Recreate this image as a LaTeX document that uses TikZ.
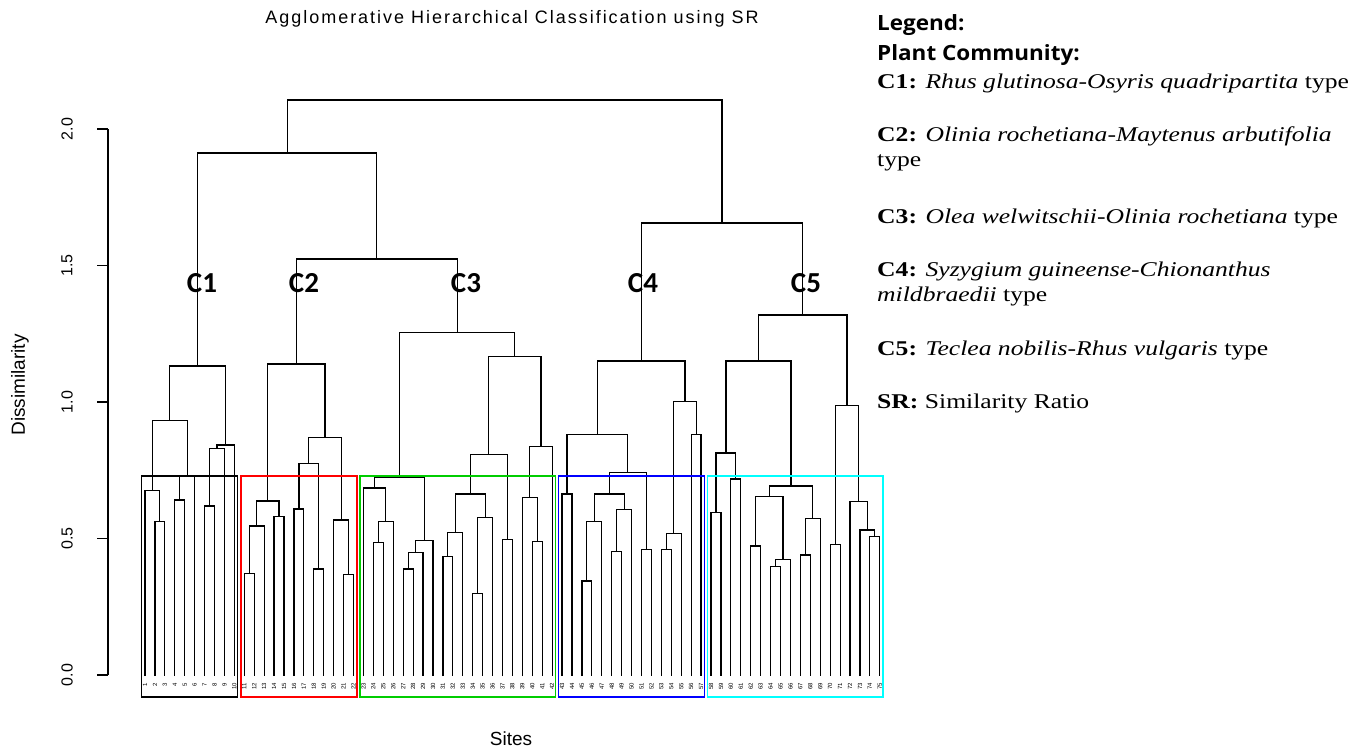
\documentclass[tikz,border=0pt]{standalone}
\usepackage{fontspec}
\usetikzlibrary{calc}

\newfontfamily\plotfont{Liberation Sans}
\newfontfamily\titlefont{Liberation Sans}[LetterSpace=11]
\newfontfamily\clabfont{Carlito}
\newfontfamily\legsans{Open Sans}
\newfontfamily\legserif{Liberation Serif}

\definecolor{rred}{RGB}{255,0,0}
\definecolor{rgreen}{RGB}{0,205,0}
\definecolor{rblue}{RGB}{0,0,255}
\definecolor{rcyan}{RGB}{0,255,255}

\tikzset{
  branch/.style={black, line width=1.2pt},
  clusterbox/.style={line width=1.5pt},
  ticklab/.style={font=\plotfont\fontsize{16}{16}\selectfont, rotate=90, inner sep=0pt},
  axislab/.style={font=\plotfont\fontsize{19}{19}\selectfont, inner sep=0pt},
  leaflab/.style={font=\plotfont\fontsize{6}{6}\selectfont, rotate=90, anchor=east, inner sep=0pt},
  clab/.style={font=\clabfont\bfseries\fontsize{29}{29}\selectfont, inner sep=0pt},
  leghead/.style={font=\legsans\bfseries\fontsize{21}{21}\selectfont, anchor=base west, inner sep=0pt},
  legbody/.style={font=\legserif\fontsize{21}{21}\selectfont, anchor=base west, inner sep=0pt}
}

% \mergeat{name}{left child}{right child}{height}
\newcommand{\mergeat}[4]{%
  \coordinate (#1) at ($(#2 |- 0,#4)!0.5!(#3 |- 0,#4)$);
  \draw[branch] (#2) -- (#2 |- 0,#4) -- (#3 |- 0,#4) -- (#3);
}
% wider legend text
\newcommand{\legwide}[1]{\scalebox{1.22}[1]{#1}}

\begin{document}
\begin{tikzpicture}[x=1pt, y=-1pt]

	\useasboundingbox (0,0) rectangle (1355,748);

	%title and axis labels
	\node[axislab, font=\titlefont\fontsize{18}{18}\selectfont] (title) at (512,19) {Agglomerative Hierarchical Classification using SR};
	\node[axislab] (xlab) at (511,739) {Sites};
	\node[axislab, rotate=90] (ylab) at (20,385) {Dissimilarity};

	%y axis
	\draw[branch] (108,129) -- (108,675);
	\foreach \v/\y in {0.0/675,0.5/538.5,1.0/402,1.5/265.5,2.0/129} {
		\draw[branch] (108,\y) -- (97,\y);
		\node[ticklab] at (67,\y) {\v};
	}

	%leaves
	\foreach \i in {1,...,75} {
		\coordinate (L\i) at ({145+9.93*(\i-1)},676);
		\node[leaflab] (s\i) at ({145+9.93*(\i-1)},683) {\i};
	}

	%C1
	\mergeat{a1}{L2}{L3}{521.7}
	\mergeat{a2}{L1}{a1}{490.7}
	\mergeat{a3}{L4}{L5}{500}
	\mergeat{a4}{a3}{L6}{476.7}
	\mergeat{a5}{a2}{a4}{420.7}
	\mergeat{a6}{L7}{L8}{506}
	\mergeat{a7}{a6}{L9}{448.3}
	\mergeat{a8}{a7}{L10}{445}
	\mergeat{cA}{a5}{a8}{366}

	%C2
	\mergeat{b1}{L11}{L12}{573.3}
	\mergeat{b2}{b1}{L13}{526}
	\mergeat{b3}{L14}{L15}{516.7}
	\mergeat{b4}{b2}{b3}{501}
	\mergeat{b5}{L16}{L17}{509}
	\mergeat{b6}{L18}{L19}{569}
	\mergeat{b7}{b5}{b6}{463.3}
	\mergeat{b8}{L21}{L22}{574.3}
	\mergeat{b9}{L20}{b8}{520}
	\mergeat{b10}{b7}{b9}{437.3}
	\mergeat{cB}{b4}{b10}{364}

	%C3
	\mergeat{g1}{L24}{L25}{542.3}
	\mergeat{g2}{g1}{L26}{521.3}
	\mergeat{g3}{L23}{g2}{488}
	\mergeat{g4}{L27}{L28}{569}
	\mergeat{g5}{g4}{L29}{552.3}
	\mergeat{g6}{g5}{L30}{540.7}
	\mergeat{g7}{g3}{g6}{477.7}
	\mergeat{g8}{L31}{L32}{556.7}
	\mergeat{g9}{g8}{L33}{532.3}
	\mergeat{g10}{L34}{L35}{593.3}
	\mergeat{g11}{g10}{L36}{517.3}
	\mergeat{g12}{g9}{g11}{494}
	\mergeat{g13}{L37}{L38}{539.7}
	\mergeat{g14}{g12}{g13}{454.3}
	\mergeat{g15}{L40}{L41}{541.3}
	\mergeat{g16}{L39}{g15}{497.3}
	\mergeat{g17}{g16}{L42}{446.7}
	\mergeat{g18}{g14}{g17}{356.7}
	\mergeat{cC}{g7}{g18}{332.3}

	%C4
	\mergeat{u1}{L43}{L44}{494}
	\mergeat{u2}{L45}{L46}{581}
	\mergeat{u3}{u2}{L47}{521.7}
	\mergeat{u4}{L48}{L49}{551.7}
	\mergeat{u5}{u4}{L50}{509.3}
	\mergeat{u6}{u3}{u5}{494}
	\mergeat{u7}{L51}{L52}{549.3}
	\mergeat{u8}{u6}{u7}{472.7}
	\mergeat{u9}{u1}{u8}{434.3}
	\mergeat{u10}{L53}{L54}{549.3}
	\mergeat{u11}{u10}{L55}{533.3}
	\mergeat{u12}{L56}{L57}{434.3}
	\mergeat{u13}{u11}{u12}{401.7}
	\mergeat{cD}{u9}{u13}{361}

	%C5
	\mergeat{v1}{L58}{L59}{512.3}
	\mergeat{v2}{L60}{L61}{479}
	\mergeat{v3}{v1}{v2}{453}
	\mergeat{v4}{L62}{L63}{546}
	\mergeat{v5}{L64}{L65}{566.7}
	\mergeat{v6}{v5}{L66}{559.3}
	\mergeat{v7}{v4}{v6}{496.7}
	\mergeat{v8}{L67}{L68}{555}
	\mergeat{v9}{v8}{L69}{518.3}
	\mergeat{v10}{v7}{v9}{486}
	\mergeat{v11}{v3}{v10}{361}
	\mergeat{v12}{L70}{L71}{544.3}
	\mergeat{v13}{L74}{L75}{536.7}
	\mergeat{v14}{L73}{v13}{530}
	\mergeat{v15}{L72}{v14}{501.7}
	\mergeat{v16}{v12}{v15}{405.7}
	\mergeat{cE}{v11}{v16}{315}

	%upper levels
	\mergeat{cBC}{cB}{cC}{259}
	\mergeat{cABC}{cA}{cBC}{153}
	\mergeat{cDE}{cD}{cE}{223}
	\mergeat{root}{cABC}{cDE}{100}

	%cluster boxes
	\draw[clusterbox, black] (141.6,476) rectangle (237.7,697);
	\draw[clusterbox, rred] (240.9,476) rectangle (356.8,697);
	\draw[clusterbox, rgreen] (360.1,476) rectangle (555.4,697);
	\draw[clusterbox, rblue] (558.7,476) rectangle (704.4,697);
	\draw[clusterbox, rcyan] (707.6,476) rectangle (883.1,697);

	%cluster names
	\node[clab] (n1) at (202,283) {C1};
	\node[clab] (n2) at (304,283) {C2};
	\node[clab] (n3) at (466,283) {C3};
	\node[clab] (n4) at (643,283) {C4};
	\node[clab] (n5) at (806,283) {C5};

	%legend
	\node[leghead] (leg) at (877,30.7) {\scalebox{1.07}[1]{Legend:}};
	\node[leghead] (pc) at (877,60) {\scalebox{1.07}[1]{Plant Community:}};
	\node[legbody] (d1) at (877,88.3) {\legwide{\textbf{C1:} \textit{Rhus glutinosa-Osyris quadripartita} type}};
	\node[legbody] (d2) at (877,141.7) {\legwide{\textbf{C2:} \textit{Olinia rochetiana-Maytenus arbutifolia}}};
	\node[legbody] (d2b) at (877,166.7) {\legwide{type}};
	\node[legbody] (d3) at (877,223.3) {\legwide{\textbf{C3:} \textit{Olea welwitschii-Olinia rochetiana} type}};
	\node[legbody] (d4) at (877,276) {\legwide{\textbf{C4:} \textit{Syzygium guineense-Chionanthus}}};
	\node[legbody] (d4b) at (877,301.7) {\legwide{\textit{mildbraedii} type}};
	\node[legbody] (d5) at (877,355) {\legwide{\textbf{C5:} \textit{Teclea nobilis-Rhus vulgaris} type}};
	\node[legbody] (d6) at (877,408.3) {\legwide{\textbf{SR:} Similarity Ratio}};

\end{tikzpicture}
\end{document}
